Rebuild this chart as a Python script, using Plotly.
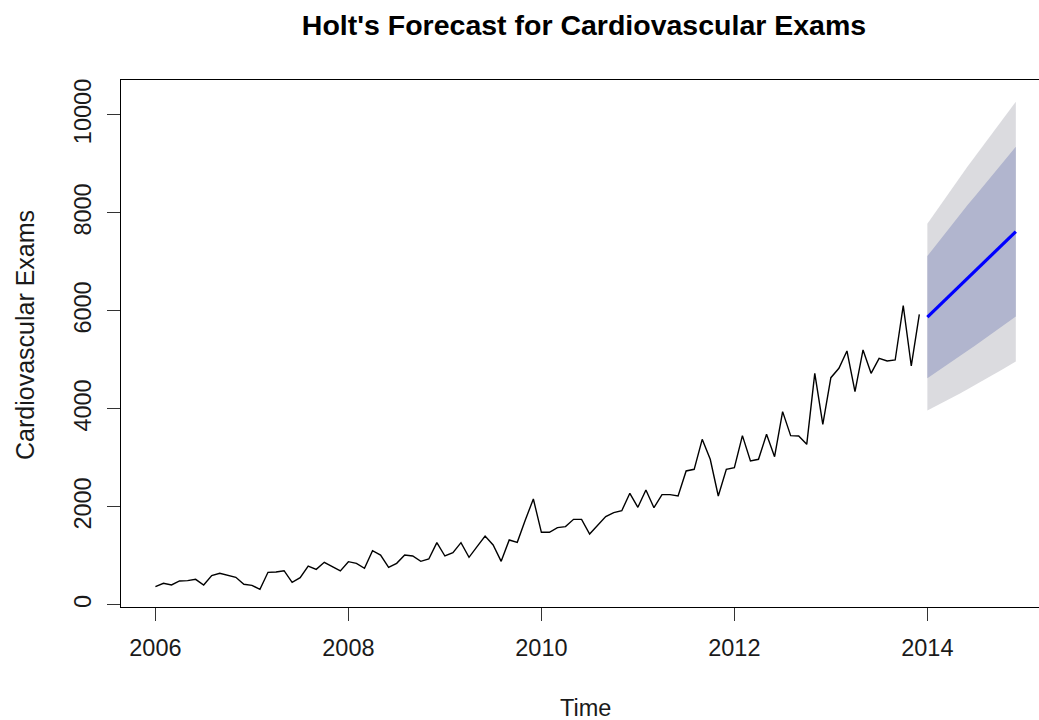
import plotly.graph_objects as go

# Monthly observed values, Jan 2006 .. Dec 2013
exams = [373, 442, 408, 490, 497, 524, 408, 599, 646, 612, 565, 422,
         401, 320, 667, 673, 700, 463, 558, 796, 728, 871, 782, 694,
         884, 850, 748, 1109, 1020, 769, 850, 1020, 1000, 891, 939, 1272,
         1000, 1068, 1272, 973, 1190, 1408, 1224, 891, 1327, 1279, 1735, 2163,
         1483, 1483, 1578, 1599, 1748, 1748, 1449, 1633, 1803, 1884, 1925, 2279,
         1993, 2347, 1986, 2252, 2252, 2224, 2735, 2769, 3381, 2973, 2224, 2769,
         2803, 3456, 2939, 2973, 3483, 3027, 3946, 3456, 3449, 3279, 4728, 3687,
         4639, 4830, 5184, 4354, 5204, 4728, 5034, 4980, 5000, 6109, 4878, 5932]
start_year = 2006

# Forecast, Jan 2014 .. Dec 2014
fc_mean = [5875, 6035, 6195, 6355, 6515, 6675, 6830, 6990, 7150, 7305, 7465, 7620]
lo80 = [4629, 4738, 4849, 4961, 5074, 5189, 5301, 5418, 5537, 5652, 5772, 5887]
hi80 = [7121, 7332, 7541, 7749, 7956, 8161, 8359, 8562, 8763, 8958, 9158, 9353]
lo95 = [3970, 4052, 4136, 4223, 4311, 4402, 4491, 4586, 4683, 4777, 4876, 4970]
hi95 = [7780, 8018, 8254, 8487, 8719, 8948, 9169, 9394, 9617, 9833, 10054, 10270]
fc_start = 2014

x_ticks = [2006, 2008, 2010, 2012, 2014]
y_ticks = [0, 2000, 4000, 6000, 8000, 10000]

title = "Holt's Forecast for Cardiovascular Exams"
x_label = "Time"
y_label = "Cardiovascular Exams"

t_obs = [start_year + i / 12 for i in range(len(exams))]
t_fc = [fc_start + i / 12 for i in range(len(fc_mean))]

FONT = "Liberation Sans, Arial, sans-serif"
TXT = "#1a1a1a"

fig = go.Figure()
fig.add_trace(go.Scatter(x=t_fc, y=lo95, mode="lines", line=dict(width=0),
                         showlegend=False, hoverinfo="skip"))
fig.add_trace(go.Scatter(x=t_fc, y=hi95, mode="lines", line=dict(width=0),
                         fill="tonexty", fillcolor="#DBDBDF", showlegend=False))
fig.add_trace(go.Scatter(x=t_fc, y=lo80, mode="lines", line=dict(width=0),
                         showlegend=False, hoverinfo="skip"))
fig.add_trace(go.Scatter(x=t_fc, y=hi80, mode="lines", line=dict(width=0),
                         fill="tonexty", fillcolor="#B1B5CE", showlegend=False))
fig.add_trace(go.Scatter(x=t_obs, y=exams, mode="lines",
                         line=dict(color="black", width=1.4), showlegend=False))
fig.add_trace(go.Scatter(x=t_fc, y=fc_mean, mode="lines",
                         line=dict(color="#0000FF", width=3.2), showlegend=False))

L, T, B = 121, 80, 607
PW, PH = 1039 - L, B - T

fig.update_layout(
    width=1039, height=720,
    margin=dict(l=L, r=0, t=T, b=720 - B, autoexpand=False),
    paper_bgcolor="white", plot_bgcolor="white",
    font=dict(family=FONT, color=TXT, size=23),
    title=dict(text="<b>" + title + "</b>", x=584 / 1039, xref="container",
               xanchor="center", y=1 - 25 / 720, yref="container", yanchor="middle",
               font=dict(family=FONT, size=28.5, color="black")),
    xaxis=dict(range=[2005.6433, 2015.157], tickvals=x_ticks,
               ticktext=[str(v) for v in x_ticks],
               showgrid=False, zeroline=False, showline=True, linecolor="black",
               linewidth=1.3, mirror=True, ticks="outside", ticklen=13,
               tickcolor="#333", tickwidth=1.3, ticklabelstandoff=7,
               automargin=False, tickfont=dict(size=23.5, color=TXT)),
    yaxis=dict(range=[-41, 10714], tickvals=y_ticks,
               ticktext=[str(v) for v in y_ticks],
               showgrid=False, zeroline=False, showline=True, linecolor="black",
               linewidth=1.3, mirror=False, ticks="outside", ticklen=13,
               tickcolor="#333", tickwidth=1.3, tickangle=-90, ticklabelstandoff=6,
               automargin=False, tickfont=dict(size=23.5, color=TXT)),
    annotations=[
        dict(text=x_label, x=(585 - L) / PW, y=-(708 - B) / PH,
             xref="paper", yref="paper", showarrow=False,
             xanchor="center", yanchor="middle",
             font=dict(size=23.5, color=TXT, family=FONT)),
        dict(text=y_label, x=-(L - 25) / PW, y=(B - 335) / PH,
             xref="paper", yref="paper", showarrow=False, textangle=-90,
             xanchor="center", yanchor="middle",
             font=dict(size=25, color=TXT, family=FONT)),
    ],
)

fig.write_html("out.html",
               config={"displayModeBar": False},
               post_script="document.body.style.margin='0px';"
                           "document.body.style.padding='0px';"
                           "document.body.style.overflow='hidden';")
